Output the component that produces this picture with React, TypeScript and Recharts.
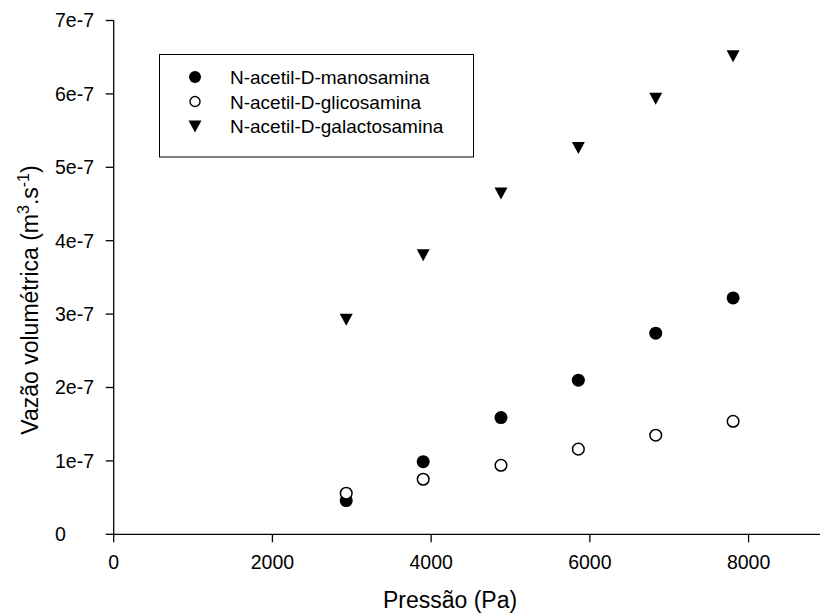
import React from 'react';
import { ScatterChart, Scatter, XAxis, YAxis, Legend } from 'recharts';

const pressao = [2930, 3900, 4880, 5855, 6830, 7805];
const manosamina = [4.6e-8, 9.9e-8, 1.59e-7, 2.1e-7, 2.74e-7, 3.22e-7];
const glicosamina = [5.6e-8, 7.5e-8, 9.4e-8, 1.16e-7, 1.35e-7, 1.54e-7];
const galactosamina = [2.93e-7, 3.81e-7, 4.65e-7, 5.27e-7, 5.94e-7, 6.52e-7];
const seriesNames = ['N-acetil-D-manosamina', 'N-acetil-D-glicosamina', 'N-acetil-D-galactosamina'];
const xTicks = [0, 2000, 4000, 6000, 8000];
const yTicks = [0, 1e-7, 2e-7, 3e-7, 4e-7, 5e-7, 6e-7, 7e-7];
const xTitle = 'Pressão (Pa)';
const yTitle = 'Vazão volumétrica (m';

const FONT = '"Liberation Sans", Arial, sans-serif';
const TICK_FS = 19.5;

const toPoints = (ys: number[]) => pressao.map((x, i) => ({ x, y: ys[i] }));

const FilledCircle = (p: any) => <circle cx={p.cx} cy={p.cy} r={6.5} fill="#000" />;
const OpenCircle = (p: any) => (
  <circle cx={p.cx} cy={p.cy} r={5.8} fill="#fff" stroke="#000" strokeWidth={1.5} />
);
const Triangle = (p: any) => (
  <path
    d={`M${p.cx - 6.5},${p.cy - 5.5} L${p.cx + 6.5},${p.cy - 5.5} L${p.cx},${p.cy + 6.5} Z`}
    fill="#000"
  />
);

const markerFor = (i: number, cx: number, cy: number) => {
  if (i === 0) return <circle cx={cx} cy={cy} r={6} fill="#000" />;
  if (i === 1) return <circle cx={cx} cy={cy} r={5} fill="#fff" stroke="#000" strokeWidth={1.4} />;
  return (
    <path d={`M${cx - 6.5},${cy - 5.5} L${cx + 6.5},${cy - 5.5} L${cx},${cy + 6.5} Z`} fill="#000" />
  );
};

const renderLegend = () => {
  const rows = [23, 47.5, 72];
  return (
    <svg width={315} height={104} style={{ display: 'block' }}>
      <rect x={0.5} y={0.5} width={314} height={102.5} fill="#fff" stroke="#000" strokeWidth={1} />
      {seriesNames.map((name, i) => (
        <g key={name}>
          {markerFor(i, 36, rows[i])}
          <text x={71} y={rows[i] + 7} fontFamily={FONT} fontSize={19} fill="#000">
            {name}
          </text>
        </g>
      ))}
    </svg>
  );
};

const fmtY = (v: number) => (v === 0 ? '0' : `${Math.round(v / 1e-7)}e-7`);

const YTick = (p: any) => (
  <text x={55} y={p.y} dy="0.35em" textAnchor="start" fontFamily={FONT} fontSize={TICK_FS} fill="#000">
    {fmtY(p.payload.value)}
  </text>
);

export default function App() {
  return (
    <div style={{ position: 'absolute', left: 0, top: 0, width: 820, height: 616, background: '#fff' }}>
      <ScatterChart width={820} height={616} margin={{ top: 20.5, right: 0, bottom: 0, left: 0 }}>
        <XAxis
          type="number"
          dataKey="x"
          domain={[0, 8900]}
          ticks={xTicks}
          allowDataOverflow
          height={81.7}
          tickSize={8}
          tickMargin={13}
          stroke="#000"
          tick={{ fill: '#000', fontSize: TICK_FS, fontFamily: FONT }}
          axisLine={{ stroke: '#000', strokeWidth: 1.3 }}
          tickLine={{ stroke: '#000', strokeWidth: 1.3 }}
          label={{
            content: () => (
              <text x={450} y={608} textAnchor="middle" fontFamily={FONT} fontSize={23} fill="#000">
                {xTitle}
              </text>
            ),
          }}
        />
        <YAxis
          type="number"
          dataKey="y"
          domain={[0, 7e-7]}
          ticks={yTicks}
          allowDataOverflow
          width={113.7}
          tickSize={8}
          tickMargin={8}
          stroke="#000"
          tick={YTick}
          axisLine={{ stroke: '#000', strokeWidth: 1.3 }}
          tickLine={{ stroke: '#000', strokeWidth: 1.3 }}
          label={{
            content: () => (
              <text
                x={0}
                y={0}
                transform="translate(38,300) rotate(-90)"
                textAnchor="middle"
                fontFamily={FONT}
                fontSize={23}
                fill="#000"
              >
                {yTitle}
                <tspan dy={-9} fontSize={16}>3</tspan>
                <tspan dy={9}>.s</tspan>
                <tspan dy={-9} fontSize={16}>-1</tspan>
                <tspan dy={9}>)</tspan>
              </text>
            ),
          }}
        />
        <Legend
          layout="vertical"
          align="center"
          verticalAlign="middle"
          content={renderLegend}
          wrapperStyle={{ position: 'absolute', left: 159, top: 54, width: 315, height: 104 }}
        />
        <Scatter name={seriesNames[0]} data={toPoints(manosamina)} shape={FilledCircle} isAnimationActive={false} />
        <Scatter name={seriesNames[1]} data={toPoints(glicosamina)} shape={OpenCircle} isAnimationActive={false} />
        <Scatter name={seriesNames[2]} data={toPoints(galactosamina)} shape={Triangle} isAnimationActive={false} />
      </ScatterChart>
    </div>
  );
}
